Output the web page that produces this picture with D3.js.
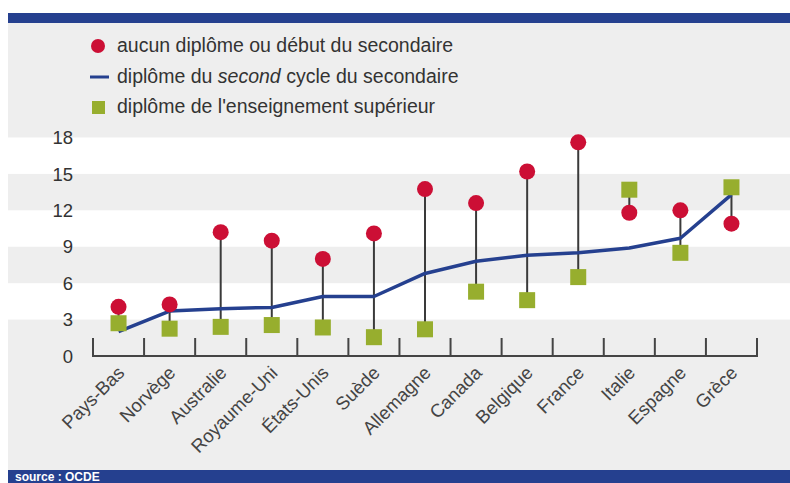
<!DOCTYPE html>
<html><head><meta charset="utf-8">
<script src="https://cdn.jsdelivr.net/npm/d3@7"></script>
<style>html,body{margin:0;padding:0;background:#fff;}svg{display:block;}</style>
</head><body><svg id="c" width="790" height="483"></svg>
<script>
const countries = ["Pays-Bas","Norvège","Australie","Royaume-Uni","États-Unis","Suède","Allemagne","Canada","Belgique","France","Italie","Espagne","Grèce"];
const aucun = [4.05, 4.25, 10.2, 9.5, 8.0, 10.1, 13.75, 12.6, 15.2, 17.6, 11.8, 12.0, 10.9];
const second = [2.0, 3.7, 3.9, 4.0, 4.9, 4.9, 6.8, 7.8, 8.3, 8.5, 8.9, 9.7, 13.3];
const superieur = [2.7, 2.25, 2.4, 2.55, 2.35, 1.55, 2.2, 5.3, 4.6, 6.5, 13.7, 8.5, 13.9];
const yTicks = [0, 3, 6, 9, 12, 15, 18];
const legendLabels = ["aucun diplôme ou début du secondaire", "diplôme du second cycle du secondaire", "diplôme de l'enseignement supérieur"];
const source = "source : OCDE";

const svg = d3.select("#c");
const FONT = "'Liberation Sans', Arial, sans-serif";
const BLUE = "#25408f", RED = "#cc0f35", GREEN = "#97ae2e", DARK = "#444";

const x = d3.scaleBand().domain(countries).range([93, 757]).paddingInner(0).paddingOuter(0);
const y = d3.scaleLinear().domain([0, 18]).range([356, 137.5]);

// backgrounds
svg.append("rect").attr("x", 8).attr("y", 13).attr("width", 782).attr("height", 10).attr("fill", BLUE);
svg.append("rect").attr("x", 8).attr("y", 23).attr("width", 782).attr("height", 447).attr("fill", "#eeeeee");
svg.append("rect").attr("x", 8).attr("y", 470).attr("width", 782).attr("height", 13).attr("fill", BLUE);
svg.append("text").attr("x", 15).attr("y", 481).attr("fill", "#fff").attr("font-family", FONT)
  .attr("font-size", 12).attr("font-weight", "bold").text(source);

// white bands
const bands = [[3, 6], [9, 12], [15, 18]];
svg.selectAll("rect.band").data(bands).enter().append("rect").attr("class", "band")
  .attr("x", 8).attr("width", 782)
  .attr("y", d => y(d[1])).attr("height", d => y(d[0]) - y(d[1])).attr("fill", "#fff");

// y tick labels
svg.selectAll("text.yt").data(yTicks).enter().append("text").attr("class", "yt")
  .attr("x", 73).attr("y", d => y(d)).attr("dy", "0.36em").attr("text-anchor", "end")
  .attr("font-family", FONT).attr("font-size", 18.5).attr("fill", "#333").text(d => d);

// x axis baseline and ticks
svg.append("line").attr("x1", x.range()[0]).attr("x2", x.range()[1]).attr("y1", y(0)).attr("y2", y(0))
  .attr("stroke", DARK).attr("stroke-width", 2);
const edges = countries.map(c => x(c)).concat([x.range()[1]]);
svg.selectAll("line.tk").data(edges).enter().append("line").attr("class", "tk")
  .attr("x1", d => d).attr("x2", d => d).attr("y1", y(0) + 1).attr("y2", y(0) - 18)
  .attr("stroke", DARK).attr("stroke-width", 2);

// x labels
const cx = c => x(c) + x.bandwidth() / 2;
svg.selectAll("text.xl").data(countries).enter().append("text").attr("class", "xl")
  .attr("transform", d => `translate(${cx(d) + 7},374) rotate(-45)`)
  .attr("text-anchor", "end").attr("font-family", FONT).attr("font-size", 18.5).attr("fill", "#444")
  .text(d => d);

// stems
svg.selectAll("line.stem").data(countries).enter().append("line").attr("class", "stem")
  .attr("x1", d => cx(d)).attr("x2", d => cx(d))
  .attr("y1", (d, i) => y(aucun[i])).attr("y2", (d, i) => y(superieur[i]))
  .attr("stroke", "#3a3a3a").attr("stroke-width", 2);

// line
const line = d3.line().x((d, i) => cx(countries[i])).y(d => y(d));
svg.append("path").datum(second).attr("d", line).attr("fill", "none")
  .attr("stroke", BLUE).attr("stroke-width", 3.5).attr("stroke-linejoin", "round");

// red markers
svg.selectAll("circle.r").data(aucun).enter().append("circle").attr("class", "r")
  .attr("cx", (d, i) => cx(countries[i])).attr("cy", d => y(d)).attr("r", 8).attr("fill", RED);

// green squares
svg.selectAll("rect.g").data(superieur).enter().append("rect").attr("class", "g")
  .attr("x", (d, i) => cx(countries[i]) - 8).attr("y", d => y(d) - 8)
  .attr("width", 16).attr("height", 16).attr("fill", GREEN);

// legend
const lg = svg.append("g").attr("font-family", FONT).attr("font-size", 19.5).attr("fill", "#333");
lg.append("circle").attr("cx", 98).attr("cy", 46).attr("r", 7).attr("fill", RED);
lg.append("line").attr("x1", 90).attr("x2", 109).attr("y1", 77).attr("y2", 77).attr("stroke", BLUE).attr("stroke-width", 3);
lg.append("rect").attr("x", 92).attr("y", 101).attr("width", 13).attr("height", 13).attr("fill", GREEN);
lg.append("text").attr("x", 117).attr("y", 52).text(legendLabels[0]);
const t2 = lg.append("text").attr("x", 117).attr("y", 83);
const parts = legendLabels[1].split("second ");
t2.append("tspan").text(parts[0]);
t2.append("tspan").attr("font-style", "italic").text("second");
t2.append("tspan").text(" " + parts[1]);
lg.append("text").attr("x", 117).attr("y", 113).text(legendLabels[2]);
</script></body></html>
